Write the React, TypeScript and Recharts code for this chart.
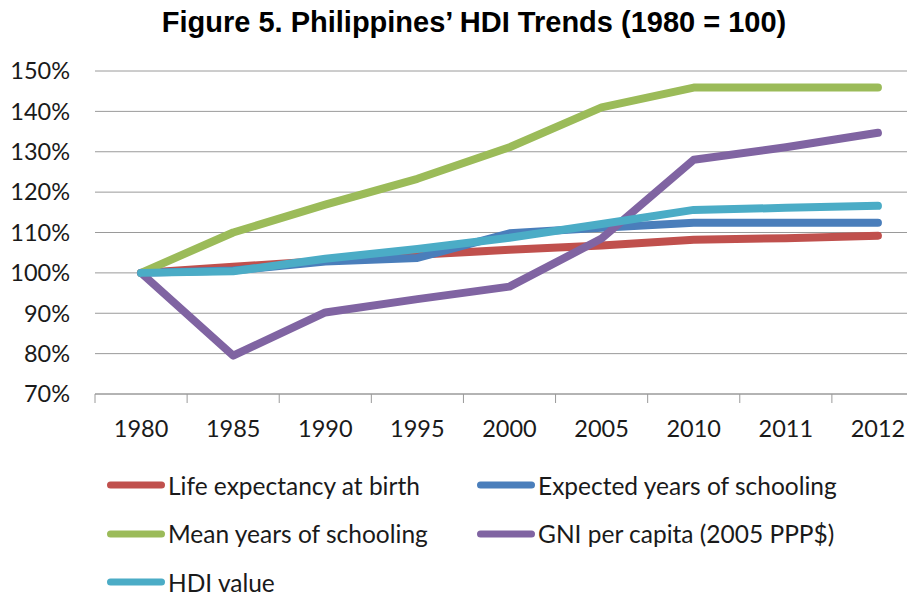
import React from 'react';
import { LineChart, Line, XAxis, YAxis, CartesianGrid, Legend } from 'recharts';

const years = ['1980', '1985', '1990', '1995', '2000', '2005', '2010', '2011', '2012'];
const lifeExpectancy = [100, 101.5, 103, 104.5, 105.7, 106.8, 108.2, 108.6, 109.2];
const expectedSchooling = [100, 100.6, 102.8, 103.7, 109.8, 111.2, 112.4, 112.4, 112.4];
const meanSchooling = [100, 110, 116.9, 123.3, 131.1, 141, 145.9, 145.9, 145.9];
const gniPerCapita = [100, 79.5, 90.2, 93.5, 96.6, 108.5, 128, 131.1, 134.7];
const hdiValue = [100, 100.4, 103.5, 105.9, 108.7, 112.1, 115.6, 116.1, 116.6];

const yTicks = [70, 80, 90, 100, 110, 120, 130, 140, 150];
const boundaryTicks = [-0.5, 0.5, 1.5, 2.5, 3.5, 4.5, 5.5, 6.5, 7.5, 8.5];
const centerTicks = [0, 1, 2, 3, 4, 5, 6, 7, 8];

const seriesOrder = ['life', 'expected', 'mean', 'gni', 'hdi'];
const seriesNames: Record<string, string> = {
  life: 'Life expectancy at birth',
  expected: 'Expected years of schooling',
  mean: 'Mean years of schooling',
  gni: 'GNI per capita (2005 PPP$)',
  hdi: 'HDI value',
};

const data = years.map((y, i) => ({
  idx: i,
  year: y,
  life: lifeExpectancy[i],
  expected: expectedSchooling[i],
  mean: meanSchooling[i],
  gni: gniPerCapita[i],
  hdi: hdiValue[i],
}));

const FONT = 'Lato, "Open Sans", sans-serif';
const TEXT = '#1a1a1a';
const GRID = '#9a9a9a';

const renderLegend = (props: any) => {
  const payload = [...(props.payload || [])].sort(
    (a: any, b: any) => seriesOrder.indexOf(String(a.dataKey)) - seriesOrder.indexOf(String(b.dataKey))
  );
  return (
    <div
      style={{
        display: 'grid',
        gridTemplateColumns: '370px 370px',
        paddingLeft: 107,
      }}
    >
      {payload.map((p: any) => (
        <div key={p.value} style={{ display: 'flex', alignItems: 'center', height: 48.5 }}>
          <svg width={58} height={10} style={{ display: 'block' }}>
            <line x1={3.5} y1={5} x2={54.5} y2={5} stroke={p.color} strokeWidth={7} strokeLinecap="round" />
          </svg>
          <span style={{ fontFamily: FONT, fontSize: 24.5, color: TEXT, marginLeft: 3, whiteSpace: 'nowrap' }}>
            {p.value}
          </span>
        </div>
      ))}
    </div>
  );
};

export default function App() {
  return (
    <div
      style={{
        position: 'absolute',
        left: 0,
        top: 0,
        width: 907,
        height: 592,
        overflow: 'hidden',
        background: '#fff',
      }}
    >
      <div
        style={{
          position: 'absolute',
          top: 6,
          left: 0,
          width: 948,
          textAlign: 'center',
          fontFamily: '"Liberation Sans", Arial, sans-serif',
          fontWeight: 'bold',
          fontSize: 29,
          color: '#000',
          whiteSpace: 'nowrap',
        }}
      >
        Figure 5. Philippines’ HDI Trends (1980 = 100)
      </div>
      <div style={{ position: 'absolute', left: 0, top: 0 }}>
        <LineChart width={924} height={592} data={data} margin={{ top: 71, right: 0, left: 0, bottom: 148 }}>
          <CartesianGrid horizontal vertical={false} stroke={GRID} />
          <XAxis
            type="number"
            dataKey="idx"
            domain={[-0.5, 8.5]}
            ticks={boundaryTicks}
            tickFormatter={() => ''}
            interval={0}
            tickSize={9}
            height={10}
            stroke={GRID}
            tickLine={{ stroke: GRID }}
            axisLine={{ stroke: GRID }}
          />
          <XAxis
            xAxisId="lbl"
            type="number"
            dataKey="idx"
            domain={[-0.5, 8.5]}
            ticks={centerTicks}
            tickFormatter={(v: number) => years[v] ?? ''}
            interval={0}
            axisLine={false}
            tickLine={false}
            tickSize={0}
            tickMargin={16}
            height={40}
            tick={{ fill: TEXT, fontSize: 23.5, fontFamily: FONT }}
          />
          <YAxis
            width={95}
            domain={[70, 150]}
            ticks={yTicks}
            interval={0}
            tickFormatter={(v: number) => `${v}%`}
            axisLine={false}
            tickLine={false}
            tickSize={0}
            tickMargin={25}
            tick={{ fill: TEXT, fontSize: 23.5, fontFamily: FONT }}
          />
          <Line dataKey="life" name={seriesNames.life} stroke="#C0504D" strokeWidth={8} dot={false} activeDot={false} strokeLinecap="round" strokeLinejoin="round" isAnimationActive={false} />
          <Line dataKey="expected" name={seriesNames.expected} stroke="#4A7EBB" strokeWidth={8} dot={false} activeDot={false} strokeLinecap="round" strokeLinejoin="round" isAnimationActive={false} />
          <Line dataKey="mean" name={seriesNames.mean} stroke="#9BBB59" strokeWidth={8} dot={false} activeDot={false} strokeLinecap="round" strokeLinejoin="round" isAnimationActive={false} />
          <Line dataKey="gni" name={seriesNames.gni} stroke="#8064A2" strokeWidth={8} dot={false} activeDot={false} strokeLinecap="round" strokeLinejoin="round" isAnimationActive={false} />
          <Line dataKey="hdi" name={seriesNames.hdi} stroke="#4BACC6" strokeWidth={8} dot={false} activeDot={false} strokeLinecap="round" strokeLinejoin="round" isAnimationActive={false} />
          <Legend
            layout="horizontal"
            verticalAlign="middle"
            align="center"
            wrapperStyle={{ top: 461, left: 0, width: 900 }}
            content={renderLegend}
          />
        </LineChart>
      </div>
    </div>
  );
}
